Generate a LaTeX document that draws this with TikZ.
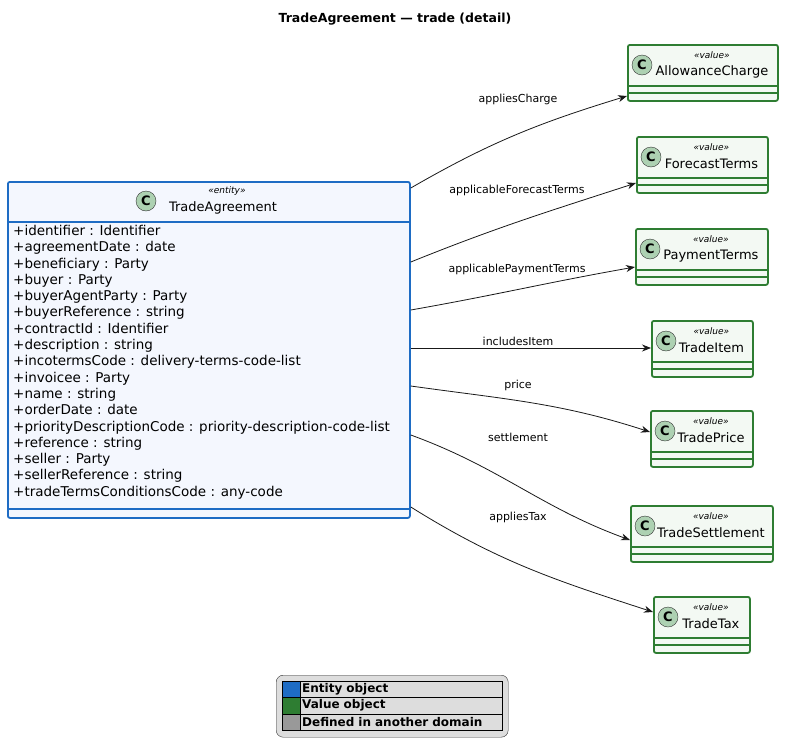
\documentclass[tikz,border=0pt]{standalone}
\usepackage{fontspec}
\setmainfont{DejaVu Sans}
\usetikzlibrary{positioning,calc,arrows.meta}
\definecolor{entityblue}{HTML}{1E6CC4}
\definecolor{entityfill}{HTML}{F4F7FE}
\definecolor{valuegreen}{HTML}{2E7D32}
\definecolor{valuefill}{HTML}{F3F9F3}
\definecolor{circlefill}{HTML}{ADD1B2}
\definecolor{legendgray}{HTML}{DDDDDD}
\tikzset{
  classbox/.style={draw, line width=1.8pt, rounded corners=2pt, anchor=north west, inner sep=0pt},
  entitybox/.style={classbox, draw=entityblue, fill=entityfill},
  valuebox/.style={classbox, draw=valuegreen, fill=valuefill},
  cmark/.style={circle, draw=black!80, fill=circlefill, minimum size=20pt, inner sep=0pt, font=\bfseries\fontsize{13}{13}\selectfont},
  stereo/.style={font=\itshape\fontsize{9}{9}\selectfont},
  cname/.style={font=\fontsize{13}{13}\selectfont},
  rel/.style={-{Stealth[length=9pt,width=7pt]}, black!90, line width=0.8pt},
  rellabel/.style={font=\fontsize{11}{11}\selectfont}
}
% value class: name, left, top, width, label
\newcommand{\valclass}[5]{%
  \node[valuebox, minimum width=#4pt, minimum height=56pt] (#1) at (#2,#3) {};
  \draw[valuegreen, line width=1.4pt] ($(#1.north west)+(0,42)$) -- ($(#1.north east)+(0,42)$);
  \draw[valuegreen, line width=1.4pt] ($(#1.north west)+(0,49)$) -- ($(#1.north east)+(0,49)$);
  \node[cmark] (#1c) at ($(#1.north west)+(15,21)$) {C};
  \node[stereo] at ($(#1.north)+(9,11)$) {«value»};
  \node[cname] at ($(#1.north)+(9,28)$) {#5};
}
\begin{document}
\begin{tikzpicture}[x=1pt, y=-1pt]
\useasboundingbox[fill=white] (0,0) rectangle (790,755);
\node[font=\bfseries\fontsize{12.5}{12.5}\selectfont] (title) at (395,19) {TradeAgreement — trade (detail)};

% entity
\node[entitybox, minimum width=402pt, minimum height=336pt] (ta) at (7,181) {};
\draw[entityblue, line width=1.4pt] ($(ta.north west)+(0,41)$) -- ($(ta.north east)+(0,41)$);
\draw[entityblue, line width=1.4pt] ($(ta.north west)+(0,328)$) -- ($(ta.north east)+(0,328)$);
\node[cmark] (tac) at (146,201) {C};
\node[stereo] at (227,191) {«entity»};
\node[cname] at (223,208) {TradeAgreement};
\node[anchor=north west, inner sep=0pt, align=left, font=\fontsize{13.5}{16.3}\selectfont] (attrs) at (13,225) {%
+identifier : Identifier\\
+agreementDate : date\\
+beneficiary : Party\\
+buyer : Party\\
+buyerAgentParty : Party\\
+buyerReference : string\\
+contractId : Identifier\\
+description : string\\
+incotermsCode : delivery-terms-code-list\\
+invoicee : Party\\
+name : string\\
+orderDate : date\\
+priorityDescriptionCode : priority-description-code-list\\
+reference : string\\
+seller : Party\\
+sellerReference : string\\
+tradeTermsConditionsCode : any-code};

% values
\valclass{ac}{627}{44}{150}{AllowanceCharge}
\valclass{ft}{636}{136}{131}{ForecastTerms}
\valclass{pt}{635}{228}{132}{PaymentTerms}
\valclass{ti}{651}{320}{101}{TradeItem}
\valclass{tp}{650}{410}{102}{TradePrice}
\valclass{ts}{630}{505}{142}{TradeSettlement}
\valclass{tt}{653}{596}{96}{TradeTax}

% relations
\draw[rel] ($(ta.north east)+(0,7)$) to[out=30, in=197] ($(ac.north west)+(0,52)$);
\draw[rel] ($(ta.north east)+(0,81)$) to[out=22, in=198] ($(ft.north west)+(0,47)$);
\draw[rel] ($(ta.north east)+(0,129)$) to[out=10, in=190] ($(pt.north west)+(0,39)$);
\draw[rel] ($(ta.north east)+(0,167)$) -- ($(ti.north west)+(0,28)$);
\draw[rel] ($(ta.north east)+(0,205)$) to[out=-8, in=162] ($(tp.north west)+(0,22)$);
\draw[rel] ($(ta.north east)+(0,254)$) to[out=-20, in=160] ($(ts.north west)+(0,35)$);
\draw[rel] ($(ta.north east)+(0,326)$) to[out=-32, in=162] ($(tt.north west)+(0,16)$);
\node[rellabel] at (518,99) {appliesCharge};
\node[rellabel] at (517,190) {applicableForecastTerms};
\node[rellabel] at (517,269) {applicablePaymentTerms};
\node[rellabel] at (518,341) {includesItem};
\node[rellabel] at (518,385) {price};
\node[rellabel] at (518,437) {settlement};
\node[rellabel] at (518,517) {appliesTax};

% legend
\node[draw=black!80, fill=legendgray, rounded corners=7pt, minimum width=232pt, minimum height=62pt, anchor=north west] (legend) at (276,675) {};
\foreach \clr/\txt [count=\i] in {entityblue/Entity object, valuegreen/Value object, black!40/Defined in another domain}{
  \node[draw=black, fill=\clr, minimum width=18pt, minimum height=16.3pt, anchor=north west, inner sep=0pt] (sw\i) at (282,{681+(\i-1)*16.3}) {};
  \node[draw=black, minimum width=202pt, minimum height=16.3pt, anchor=north west, inner sep=2pt, text width=198pt, font=\bfseries\fontsize{12}{12}\selectfont] (lt\i) at (300,{681+(\i-1)*16.3}) {\txt};
}
\end{tikzpicture}
\end{document}
